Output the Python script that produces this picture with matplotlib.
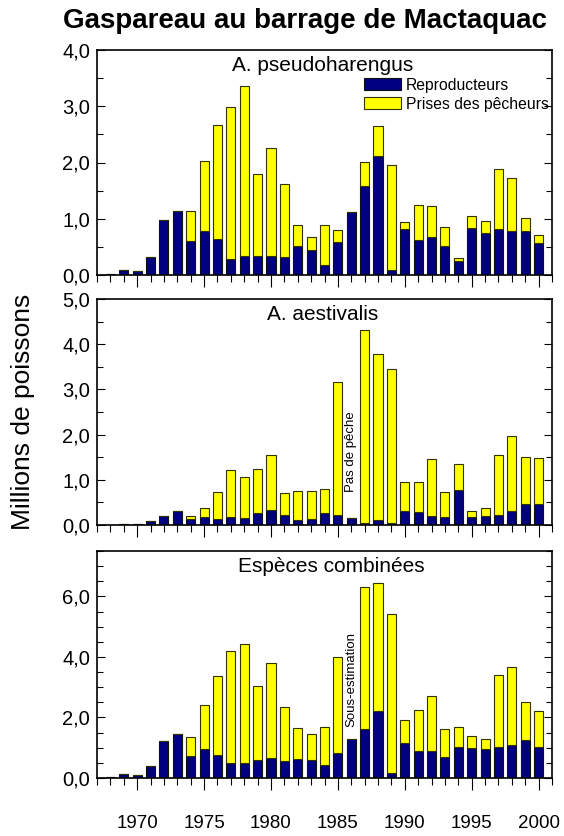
import matplotlib
matplotlib.use("Agg")
import matplotlib.pyplot as plt
from matplotlib.ticker import MultipleLocator, FuncFormatter
from matplotlib.patches import Patch

plt.rcParams['font.family'] = ['Liberation Sans', 'DejaVu Sans']

years = list(range(1968, 2001))

# A. pseudoharengus (millions)
pseudo_total = [0.012, 0.09, 0.07, 0.32, 0.98, 1.14, 1.13, 2.02, 2.66, 2.99, 3.36,
                1.79, 2.25, 1.62, 0.89, 0.68, 0.89, 0.80, 1.12, 2.01, 2.65, 1.95,
                0.94, 1.25, 1.23, 0.85, 0.31, 1.05, 0.96, 1.88, 1.73, 1.02, 0.72]
pseudo_repro = [0.012, 0.09, 0.07, 0.32, 0.98, 1.14, 0.60, 0.78, 0.64, 0.29, 0.33,
                0.33, 0.33, 0.32, 0.52, 0.45, 0.18, 0.58, 1.12, 1.58, 2.11, 0.09,
                0.82, 0.62, 0.68, 0.52, 0.25, 0.84, 0.75, 0.82, 0.78, 0.78, 0.57]

# A. aestivalis (millions)
aest_total = [0.01, 0.02, 0.02, 0.08, 0.21, 0.31, 0.20, 0.37, 0.72, 1.22, 1.07,
              1.25, 1.54, 0.70, 0.76, 0.75, 0.79, 3.17, 0.16, 4.31, 3.79, 3.45,
              0.96, 0.96, 1.45, 0.74, 1.36, 0.32, 0.37, 1.54, 1.96, 1.50, 1.48]
aest_repro = [0.01, 0.02, 0.02, 0.08, 0.21, 0.31, 0.14, 0.18, 0.13, 0.18, 0.16,
              0.26, 0.33, 0.22, 0.12, 0.13, 0.27, 0.23, 0.16, 0.04, 0.12, 0.04,
              0.32, 0.28, 0.21, 0.18, 0.78, 0.17, 0.21, 0.22, 0.32, 0.47, 0.47]

# Espèces combinées (millions)
comb_total = [0.02, 0.12, 0.10, 0.40, 1.21, 1.45, 1.34, 2.40, 3.37, 4.21, 4.43,
              3.05, 3.80, 2.33, 1.66, 1.45, 1.69, 4.00, 1.28, 6.31, 6.44, 5.41,
              1.92, 2.24, 2.71, 1.62, 1.70, 1.38, 1.28, 3.41, 3.68, 2.52, 2.20]
comb_repro = [0.02, 0.12, 0.10, 0.40, 1.21, 1.45, 0.74, 0.96, 0.77, 0.48, 0.50,
              0.61, 0.65, 0.56, 0.64, 0.59, 0.44, 0.83, 1.28, 1.62, 2.22, 0.15,
              1.16, 0.90, 0.90, 0.70, 1.02, 1.00, 0.97, 1.04, 1.09, 1.26, 1.04]

panel_titles = ["A. pseudoharengus", "A. aestivalis", "Espèces combinées"]
series_names = ["Reproducteurs", "Prises des pêcheurs"]
year_ticks = [1970, 1975, 1980, 1985, 1990, 1995, 2000]

NAVY = "#000080"
YELLOW = "#FFFF00"

W, H = 564, 836
fig = plt.figure(figsize=(W / 100, H / 100), dpi=100)

def ax_rect(top_px, bottom_px, left_px=97, right_px=552):
    return [left_px / W, 1 - bottom_px / H, (right_px - left_px) / W, (bottom_px - top_px) / H]

panels = [
    (pseudo_total, pseudo_repro, 4.0, 1.0, 0.5, (50, 275)),
    (aest_total, aest_repro, 5.0, 1.0, 0.5, (299, 525)),
    (comb_total, comb_repro, 7.5, 2.0, 0.5, (551, 778)),
]
title_x = [0.495, 0.495, 0.515]

fmt = FuncFormatter(lambda v, p: f"{v:.1f}".replace(".", ","))
axes = []
for i, (tot, rep, ymax, major, minor, (t, b)) in enumerate(panels):
    ax = fig.add_axes(ax_rect(t, b))
    axes.append(ax)
    catch = [max(tt - rr, 0) for tt, rr in zip(tot, rep)]
    ax.bar(years, rep, width=0.68, color=NAVY, edgecolor="#111111", linewidth=0.8, zorder=2)
    ax.bar(years, catch, bottom=rep, width=0.68, color=YELLOW, edgecolor="#333300",
           linewidth=0.8, zorder=2)
    ax.set_xlim(1967, 2001)
    ax.set_ylim(0, ymax)
    ax.yaxis.set_major_locator(MultipleLocator(major))
    ax.yaxis.set_minor_locator(MultipleLocator(minor))
    ax.yaxis.set_major_formatter(fmt)
    ax.set_xticks(year_ticks)
    ax.xaxis.set_minor_locator(MultipleLocator(1))
    ax.tick_params(axis='y', which='major', direction='in', length=6, width=0.8,
                   labelsize=14.5, pad=5, right=True)
    ax.tick_params(axis='y', which='minor', direction='in', length=4, width=0.8, right=True)
    ax.tick_params(axis='x', which='major', direction='out', length=8.5, width=0.8,
                   labelsize=13.5, pad=18)
    ax.tick_params(axis='x', which='minor', direction='out', length=5, width=0.8)
    if i < 2:
        ax.tick_params(axis='x', which='both', labelbottom=False)
    for s in ax.spines.values():
        s.set_linewidth(1.2)
    ax.text(title_x[i], 0.93, panel_titles[i], transform=ax.transAxes,
            ha='center', va='center', fontsize=15)
    if i == 0:
        ax.legend(handles=[Patch(facecolor=NAVY, edgecolor="#111111", linewidth=0.8),
                           Patch(facecolor=YELLOW, edgecolor="#333300", linewidth=0.8)],
                  labels=series_names, loc='upper right', bbox_to_anchor=(1.0, 0.89),
                  frameon=False, fontsize=11.3, handlelength=2.4, handleheight=0.8,
                  handletextpad=0.3, labelspacing=0.25, borderpad=0.1, borderaxespad=0.1)

axes[1].text(1986, 0.74, "Pas de pêche", rotation=90, ha='center', va='bottom', fontsize=9.5)
axes[2].text(1986, 1.69, "Sous-estimation", rotation=90, ha='center', va='bottom', fontsize=9.5)

fig.text(305 / W, 1 - 21 / H, "Gaspareau au barrage de Mactaquac", ha='center', va='center',
         fontsize=20, fontweight='bold')
fig.text(23 / W, 1 - 412 / H, "Millions de poissons", rotation=90, ha='center', va='center',
         fontsize=19)

fig.savefig("out.png", dpi=100)
